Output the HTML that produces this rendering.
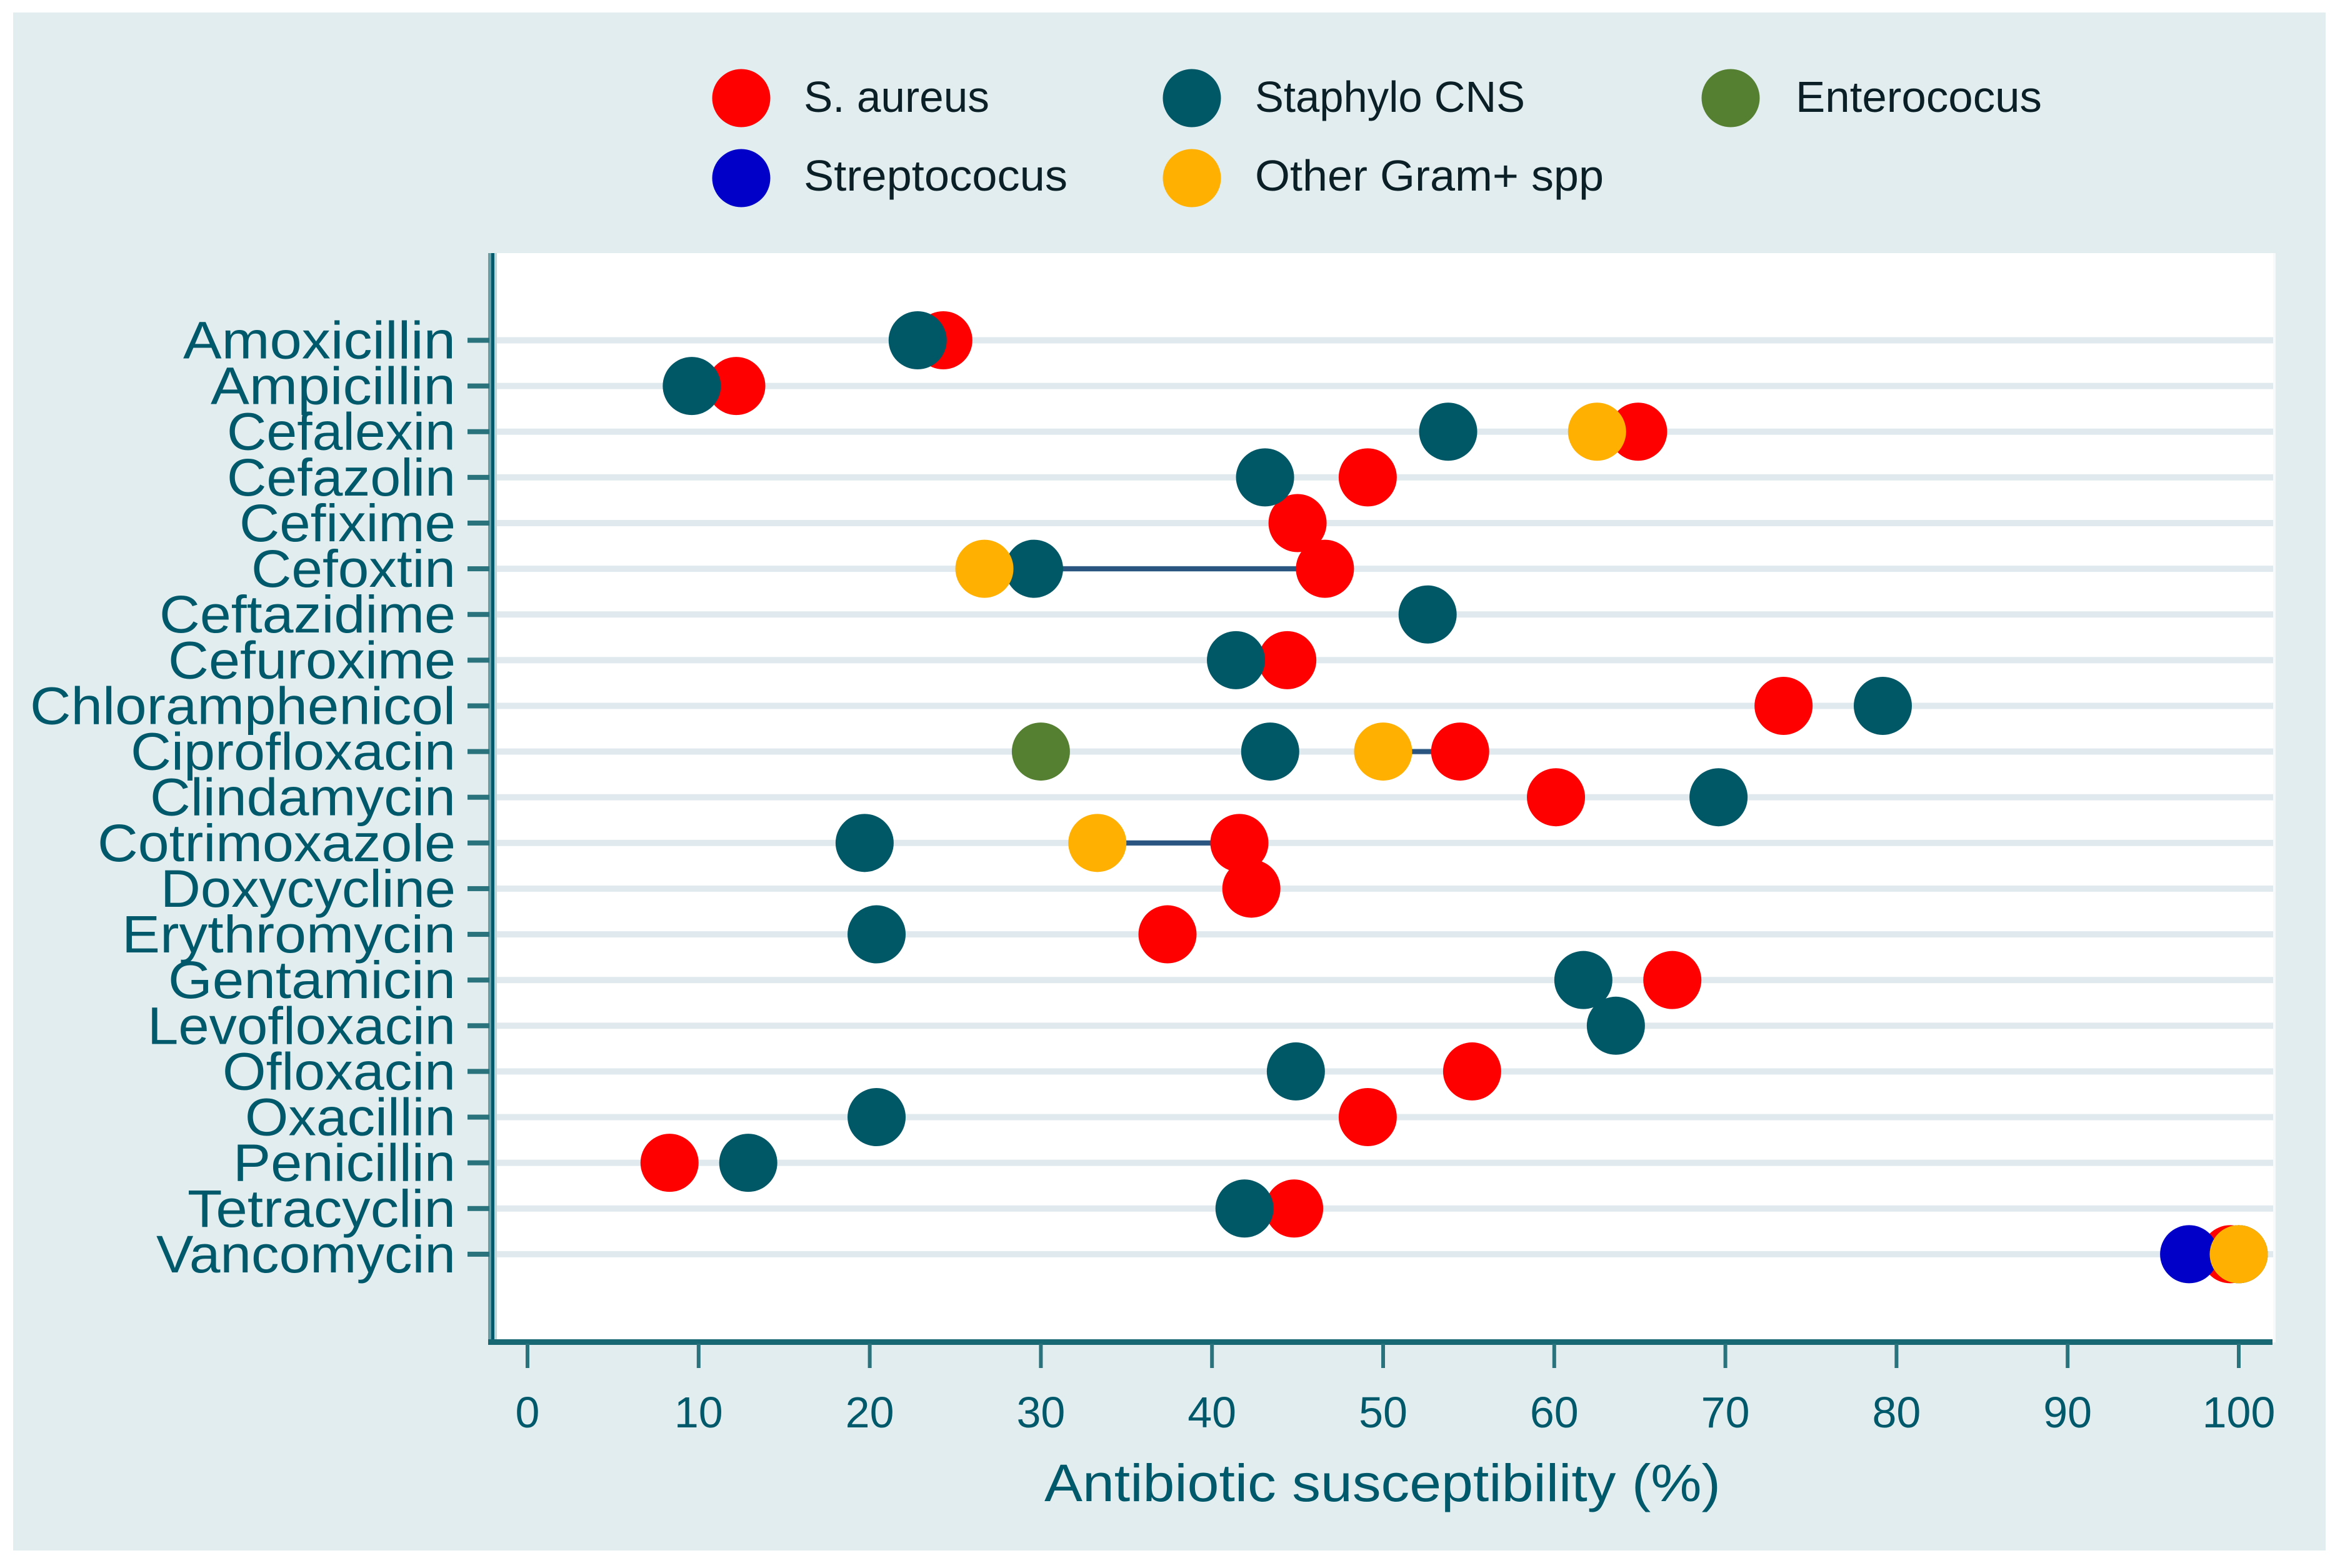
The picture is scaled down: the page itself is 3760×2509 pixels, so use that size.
<!DOCTYPE html>
<html lang="en">
<head>
<meta charset="utf-8">
<title>Antibiotic susceptibility</title>
<style>
html,body{margin:0;padding:0;background:#fff;}
svg{display:block;}
text{font-family:"Liberation Sans",sans-serif;}
</style>
</head>
<body>
<svg id="chart" xmlns="http://www.w3.org/2000/svg" width="3760" height="2509" viewBox="0 0 3760 2509">
  <rect x="21" y="20" width="3700" height="2461" fill="#e2edef"></rect>
  <rect x="790" y="405" width="2851" height="1743" fill="#f6fafb"></rect>
  <rect x="790" y="405" width="2847" height="1743" fill="#ffffff"></rect>
  <g id="grid"></g>
  <g id="connectors"></g>
  <g id="marks"></g>
  <g>
    <rect x="781" y="405" width="5" height="1745" fill="#6b9da5"></rect>
    <rect x="791" y="405" width="4" height="1738" fill="#c0d5d8"></rect>
    <rect x="786" y="405" width="5" height="1745" fill="#00596a"></rect>
  </g>
  <rect x="781" y="2143" width="2855" height="9" fill="#186873"></rect>
  <g id="y-axis"></g>
  <g id="x-axis"></g>
  <text x="2212" y="2402" text-anchor="middle" font-size="84" fill="#00596a" textLength="1082" lengthAdjust="spacingAndGlyphs">Antibiotic susceptibility (%)</text>
  <g id="legend"></g>
</svg>
<script>
const categories = ["Amoxicillin","Ampicillin","Cefalexin","Cefazolin","Cefixime","Cefoxtin","Ceftazidime","Cefuroxime","Chloramphenicol","Ciprofloxacin","Clindamycin","Cotrimoxazole","Doxycycline","Erythromycin","Gentamicin","Levofloxacin","Ofloxacin","Oxacillin","Penicillin","Tetracyclin","Vancomycin"];
const xTicks = [0,10,20,30,40,50,60,70,80,90,100];
const sAureus = [24.3,12.2,64.9,49.1,45,46.6,null,44.4,73.4,54.5,60.1,41.6,42.3,37.4,66.9,null,55.2,49.1,8.3,44.8,99.5];
const staphyloCNS = [22.8,9.6,53.8,43.1,null,29.6,52.6,41.4,79.2,43.4,69.6,19.7,null,20.4,61.7,63.6,44.9,20.4,12.9,41.9,100];
const enterococus = [null,null,null,null,null,null,null,null,null,30,null,null,null,null,null,null,null,null,null,null,100];
const streptococus = [null,null,null,null,null,null,null,null,null,null,null,null,null,null,null,null,null,null,null,null,97.1];
const otherGram = [null,null,62.5,null,null,26.7,null,null,null,50,null,33.3,null,null,null,null,null,null,null,null,100];

const SVG_NS = "http://www.w3.org/2000/svg";
const X0 = 844, X_PER_UNIT = 27.38;
const Y0 = 544.5, Y_STEP = 73.12;
function xScale(v){ return X0 + v * X_PER_UNIT; }
function yScale(i){ return Y0 + i * Y_STEP; }
function slug(s){ return s.toLowerCase().replace(/[^a-z0-9]+/g,"-").replace(/^-|-$/g,""); }
function make(tag, parent, attrs, text){
  const el = document.createElementNS(SVG_NS, tag);
  for (const k in attrs) el.setAttribute(k, attrs[k]);
  if (text !== undefined) el.textContent = text;
  parent.appendChild(el);
  return el;
}

const series = [
  {name:"S. aureus", values:sAureus, color:"#ff0000", lx:1186, ly:157, tx:1286, ty:179, tw:297},
  {name:"Staphylo CNS", values:staphyloCNS, color:"#005766", lx:1907, ly:157, tx:2008, ty:179, tw:432},
  {name:"Enterococus", values:enterococus, color:"#558032", lx:2769, ly:157, tx:2873, ty:179, tw:394},
  {name:"Streptococus", values:streptococus, color:"#0000c8", lx:1186, ly:285, tx:1286, ty:305, tw:422},
  {name:"Other Gram+ spp", values:otherGram, color:"#ffb000", lx:1907, ly:285, tx:2008, ty:305, tw:558}
];
const connectorPairs = [
  {category:"Cefoxtin", from:staphyloCNS, to:sAureus},
  {category:"Ciprofloxacin", from:otherGram, to:sAureus},
  {category:"Cotrimoxazole", from:otherGram, to:sAureus}
];
const labelFit = {Amoxicillin:436,Ampicillin:392,Cefalexin:366,Cefazolin:366,Cefixime:346,Cefoxtin:327,Ceftazidime:474,Cefuroxime:460,Chloramphenicol:681,Ciprofloxacin:520,Clindamycin:489,Cotrimoxazole:573,Doxycycline:472,Erythromycin:534,Gentamicin:460,Levofloxacin:493,Ofloxacin:373,Oxacillin:337,Penicillin:356,Tetracyclin:429,Vancomycin:479};

const gridG = document.getElementById("grid");
const yAxisG = document.getElementById("y-axis");
const xAxisG = document.getElementById("x-axis");
const connG = document.getElementById("connectors");
const marksG = document.getElementById("marks");
const legendG = document.getElementById("legend");

categories.forEach(function(cat, i){
  const y = yScale(i);
  const grid = make("rect", gridG, {x:792, y:y-5, width:2845, height:10, fill:"#e0eaee"});
  
  
  const tick = make("rect", yAxisG, {x:748, y:y-4, width:35, height:8, fill:"#2a737d"});
  
  
  const attrs = {x:729, y:y+29, "text-anchor":"end", "font-size":84, fill:"#00596a", lengthAdjust:"spacingAndGlyphs"};
  if (labelFit[cat]) attrs.textLength = labelFit[cat];
  const label = make("text", yAxisG, attrs, cat);
  
  
});

xTicks.forEach(function(t){
  const x = xScale(t);
  const tick = make("rect", xAxisG, {x:x-3, y:2150, width:6, height:39, fill:"#2a737d"});
  
  
  const label = make("text", xAxisG, {x:x, y:2284, "text-anchor":"middle", "font-size":70, fill:"#00596a"}, String(t));
  
  
});

connectorPairs.forEach(function(c){
  const i = categories.indexOf(c.category);
  const line = make("line", connG, {x1:xScale(c.from[i]), x2:xScale(c.to[i]), y1:yScale(i), y2:yScale(i), stroke:"#2a5580", "stroke-width":8});
  
  
});

series.forEach(function(s){
  s.values.forEach(function(v, i){
    if (v === null) return;
    const dot = make("circle", marksG, {cx:xScale(v), cy:yScale(i), r:46.5, fill:s.color});
    
    
  });
  const swatch = make("circle", legendG, {cx:s.lx, cy:s.ly, r:46.5, fill:s.color});
  
  
  const text = make("text", legendG, {x:s.tx, y:s.ty, "font-size":70, fill:"#0a1f26", textLength:s.tw, lengthAdjust:"spacingAndGlyphs"}, s.name);
  
  
});
</script>
</body>
</html>
